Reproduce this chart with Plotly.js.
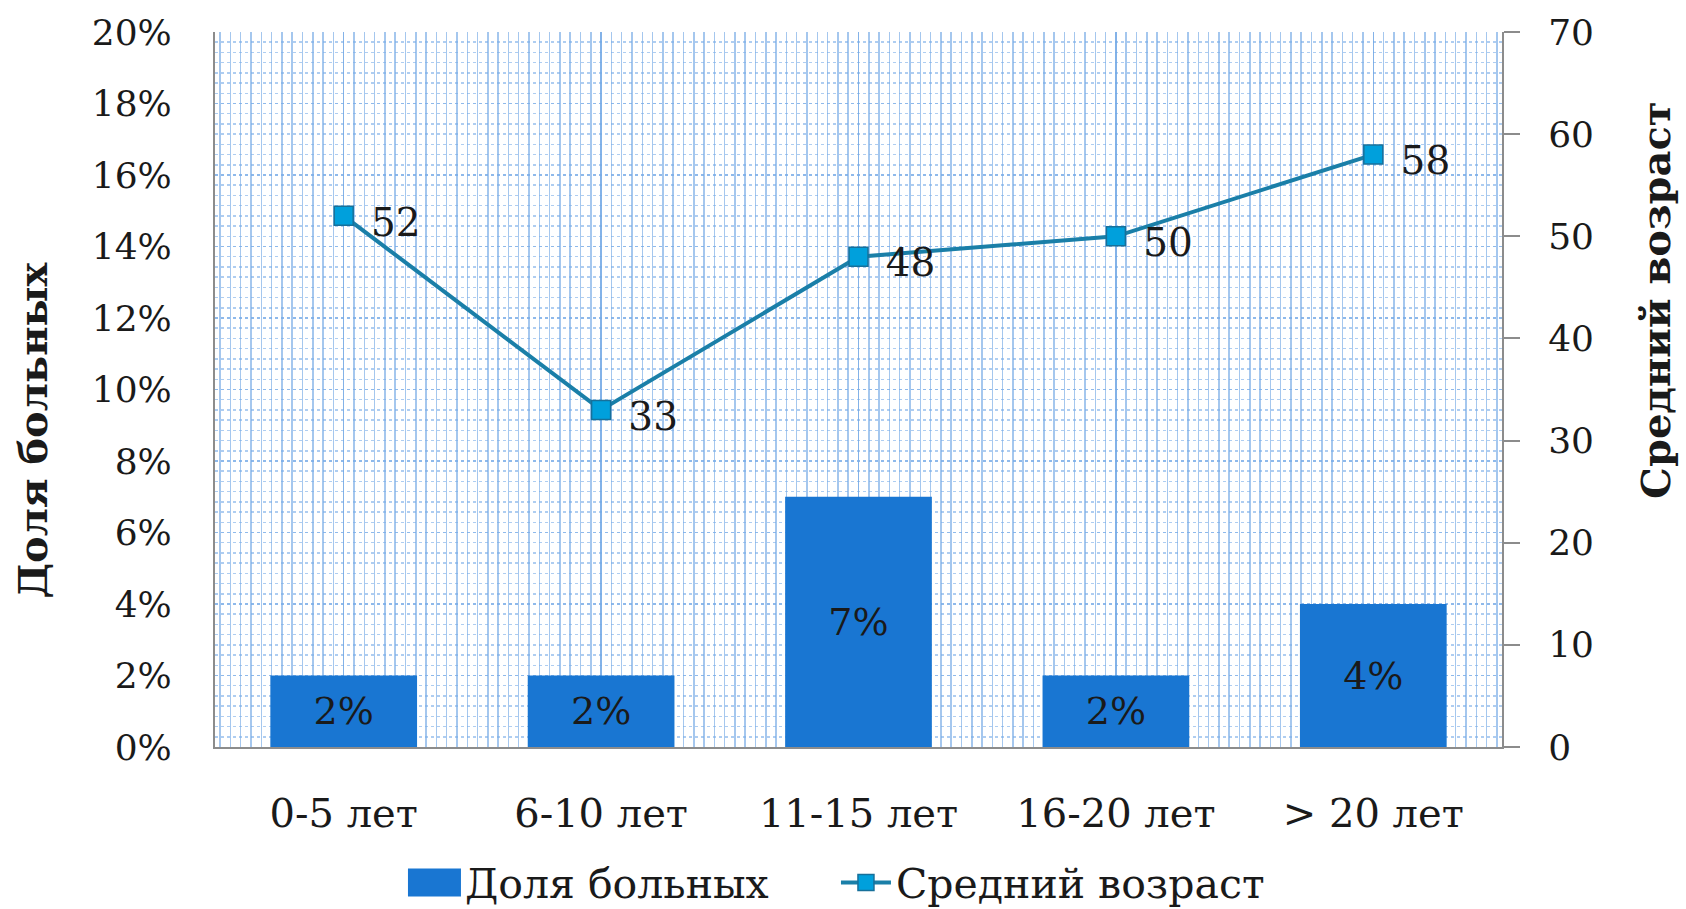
<!DOCTYPE html>
<html>
<head>
<meta charset="utf-8">
<script src="https://cdn.plot.ly/plotly-3.0.1.min.js"></script>
<style>
  html, body { margin: 0; padding: 0; background: #ffffff; }
  #chart { width: 1686px; height: 909px; }
</style>
</head>
<body>
<div id="chart"></div>
<script>
// ---- data ----
var categories = ["0-5 лет", "6-10 лет", "11-15 лет", "16-20 лет", "> 20 лет"];
var shareValues = [2, 2, 7, 2, 4];          // Доля больных, %
var ageValues = [52, 33, 48, 50, 58];        // Средний возраст
var leftTicks = [0, 2, 4, 6, 8, 10, 12, 14, 16, 18, 20];
var leftTickLabels = ["0%", "2%", "4%", "6%", "8%", "10%", "12%", "14%", "16%", "18%", "20%"];
var rightTicks = [0, 10, 20, 30, 40, 50, 60, 70];
var seriesNames = ["Доля больных", "Средний возраст"];
var axisTitles = ["Доля больных", "Средний возраст"];

var xIdx = categories.map(function (c, i) { return i; });

var FONT = "DejaVu Serif, Liberation Serif, serif";
var gridV = "rgba(110,165,228,0.62)";
var gridH = "rgba(120,172,232,0.6)";
var axisGray = "#8c8c8c";

var barTrace = {
  type: "bar",
  name: seriesNames[0],
  x: xIdx,
  y: shareValues,
  width: 0.57,
  marker: { color: "#1976d2", line: { width: 0 } },
  text: shareValues.map(function (v) { return v + "%"; }),
  textposition: "inside",
  insidetextanchor: "middle",
  textangle: 0,
  constraintext: "none",
  textfont: { family: FONT, size: 38, color: "#1a1a1a" },
  hoverinfo: "skip",
  yaxis: "y"
};

var lineTrace = {
  type: "scatter",
  mode: "lines+markers+text",
  name: seriesNames[1],
  x: xIdx,
  y: ageValues,
  yaxis: "y2",
  line: { color: "#1a7fa8", width: 4 },
  marker: { symbol: "square", size: 19, color: "#00a0dc", line: { color: "#17709a", width: 1.5 } },
  text: ageValues.map(function (v) { return "\u00a0" + v; }),
  textposition: "middle right",
  textfont: { family: FONT, size: 39, color: "#1a1a1a" },
  cliponaxis: false,
  hoverinfo: "skip"
};

var layout = {
  width: 1686,
  height: 909,
  margin: { l: 215, r: 184, t: 32, b: 162, pad: 0, autoexpand: false },
  paper_bgcolor: "#ffffff",
  plot_bgcolor: "#ffffff",
  font: { family: FONT, size: 38, color: "#1a1a1a" },
  showlegend: true,
  xaxis: {
    type: "linear",
    range: [-0.5, 4.5],
    tickmode: "array",
    tickvals: xIdx,
    ticktext: categories,
    ticks: "",
    showline: true,
    linecolor: axisGray,
    linewidth: 2,
    showgrid: true,
    gridcolor: gridV,
    gridwidth: 1.5,
    zeroline: false,
    automargin: false,
    ticklabelstandoff: 30,
    tickfont: { family: FONT, size: 40, color: "#1a1a1a" },
    minor: { tickmode: "linear", tick0: 0, dtick: 0.04, showgrid: true, gridcolor: gridV, gridwidth: 1.5, ticks: "" },
    fixedrange: true
  },
  yaxis: {
    range: [0, 20],
    tickmode: "array",
    tickvals: leftTicks,
    ticktext: leftTickLabels,
    ticks: "",
    showline: true,
    linecolor: axisGray,
    linewidth: 2,
    showgrid: true,
    gridcolor: gridH,
    griddash: "dot",
    gridwidth: 1.5,
    zeroline: false,
    automargin: false,
    ticklabelstandoff: 34,
    tickfont: { family: FONT, size: 36, color: "#1a1a1a" },
    minor: { tickmode: "linear", tick0: 0, dtick: 2 / 7, showgrid: true, gridcolor: gridH, griddash: "dot", gridwidth: 1.5, ticks: "" },
    fixedrange: true
  },
  yaxis2: {
    overlaying: "y",
    side: "right",
    range: [0, 70],
    tickmode: "array",
    tickvals: rightTicks,
    ticks: "outside",
    ticklen: 16,
    tickwidth: 2,
    tickcolor: axisGray,
    showline: true,
    linecolor: axisGray,
    linewidth: 2,
    showgrid: false,
    zeroline: false,
    automargin: false,
    ticklabelstandoff: 21,
    tickfont: { family: FONT, size: 36, color: "#1a1a1a" },
    fixedrange: true
  },
  legend: {
    orientation: "h",
    x: 0.1476,
    xanchor: "left",
    y: -0.19,
    yanchor: "middle",
    font: { family: FONT, size: 41, color: "#1a1a1a" },
    itemwidth: 50,
    entrywidth: 366,
    entrywidthmode: "pixels",
    traceorder: "normal",
    bgcolor: "rgba(0,0,0,0)"
  },
  annotations: [
    {
      text: "<b>" + axisTitles[0] + "</b>",
      xref: "paper", yref: "paper",
      x: -0.142, y: 0.443,
      xanchor: "center", yanchor: "middle",
      textangle: -90,
      showarrow: false,
      font: { family: FONT, size: 40, color: "#1a1a1a" }
    },
    {
      text: "<b>" + axisTitles[1] + "</b>",
      xref: "paper", yref: "paper",
      x: 1.1197, y: 0.624,
      xanchor: "center", yanchor: "middle",
      textangle: -90,
      showarrow: false,
      font: { family: FONT, size: 40, color: "#1a1a1a" }
    }
  ]
};

function postProcess(gd) {
  // enlarge the bar legend swatch to match the reference
  var items = gd.querySelectorAll(".legend .traces");
  items.forEach(function (item) {
    var p = item.querySelector(".legendpoints path.legendundefined");
    var t = item.querySelector("text.legendtext");
    if (!p || !t) return;
    var tx = parseFloat(t.getAttribute("x")) || 60;
    var x1 = tx - 4, x0 = x1 - 53;
    p.setAttribute("transform", "");
    p.setAttribute("d", "M" + x0 + ",-14H" + x1 + "V14H" + x0 + "Z");
  });
  // nudge line data labels slightly down and right, as in the reference
  gd.querySelectorAll(".scatterlayer .textpoint").forEach(function (g) {
    var prev = g.getAttribute("transform") || "";
    g.setAttribute("transform", prev + " translate(2,10)");
  });
}

Plotly.newPlot("chart", [barTrace, lineTrace], layout, { staticPlot: true, displayModeBar: false })
  .then(function (gd) { postProcess(gd); });
</script>
</body>
</html>
